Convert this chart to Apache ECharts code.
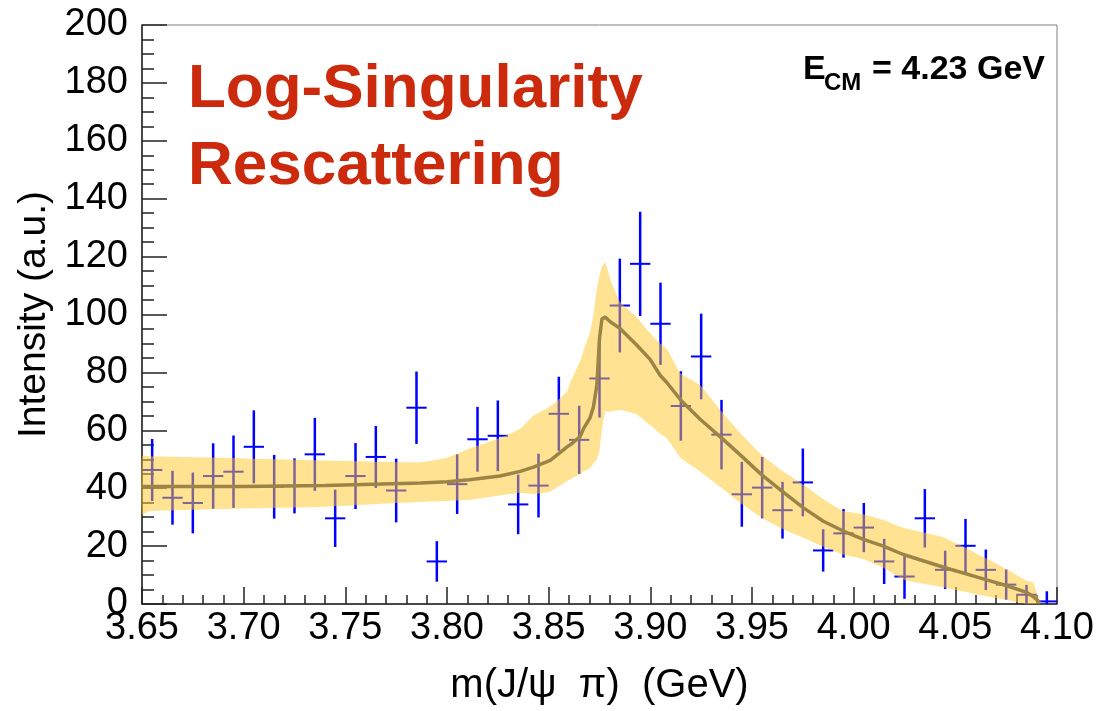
<!DOCTYPE html>
<html>
<head>
<meta charset="utf-8">
<script src="https://cdn.jsdelivr.net/npm/echarts@6/dist/echarts.min.js"></script>
<style>
  html, body { margin: 0; padding: 0; background: #ffffff; }
  #chart { width: 1099px; height: 711px; }
</style>
</head>
<body>
<div id="chart"></div>
<script>
// Measured J/psi pi invariant-mass spectrum (bin centres, GeV)
const massBins = [
  3.655, 3.665, 3.675, 3.685, 3.695, 3.705, 3.715, 3.725, 3.735, 3.745,
  3.755, 3.765, 3.775, 3.785, 3.795, 3.805, 3.815, 3.825, 3.835, 3.845,
  3.855, 3.865, 3.875, 3.885, 3.895, 3.905, 3.915, 3.925, 3.935, 3.945,
  3.955, 3.965, 3.975, 3.985, 3.995, 4.005, 4.015, 4.025, 4.035, 4.045,
  4.055, 4.065, 4.075, 4.085, 4.095
];
const counts = [
  46.3, 36.7, 34.9, 44.2, 45.7, 54.3, 40.5, 40.8, 51.7, 29.6,
  44.2, 50.8, 39.2, 67.8, 14.7, 41.4, 56.9, 58.1, 34.4, 40.9,
  65.7, 56.7, 77.9, 103.1, 117.5, 96.8, 68.4, 85.5, 58.5, 37.9,
  40.2, 32.4, 42.0, 18.5, 24.4, 26.4, 14.7, 9.5, 29.6, 11.8,
  20.1, 11.8, 6.7, 3.2, 0.9
];
const errors = [
  10.7, 9.3, 10.5, 11.3, 12.5, 12.6, 11.0, 9.5, 12.6, 9.9,
  11.4, 10.7, 11.0, 12.5, 7.0, 10.3, 11.2, 12.2, 10.3, 11.0,
  12.8, 11.8, 13.5, 16.2, 18.0, 14.2, 12.0, 14.8, 12.0, 11.2,
  10.6, 9.8, 11.7, 7.3, 8.4, 8.5, 7.8, 7.7, 10.1, 6.6,
  9.3, 7.0, 5.2, 3.4, 3.5
];

// Log-singularity rescattering model: central curve and uncertainty band
const curveMass = [
  3.650, 3.654, 3.700, 3.740, 3.787, 3.800, 3.811, 3.826, 3.836, 3.8425,
  3.8508, 3.8589, 3.8606, 3.8655, 3.8671, 3.8704, 3.8720, 3.8737, 3.8750, 3.8762,
  3.8778, 3.8803, 3.8852, 3.8934, 3.8999, 3.9048, 3.9081, 3.9150, 3.9245, 3.9351,
  3.9450, 3.9548, 3.9649, 3.9753, 3.9851, 3.9949, 4.0048, 4.0146, 4.0244, 4.0446,
  4.0646, 4.0753, 4.0851, 4.0882, 4.0905, 4.0915
];
const curveLow = [
  31.0, 32.1, 33.0, 33.6, 35.3, 35.6, 36.0, 37.5, 38.3, 38.0,
  38.9, 42.4, 43.0, 45.0, 45.8, 47.0, 48.5, 50.0, 53.0, 60.0,
  66.4, 66.4, 67.0, 65.5, 61.8, 58.8, 57.3, 50.4, 45.8, 40.1,
  34.5, 29.8, 26.0, 22.9, 19.8, 17.1, 15.5, 12.5, 8.5, 5.7,
  2.8, 1.4, 0.0, 0.0, 0.0, 0.0
];
const curveMid = [
  40.6, 40.6, 40.6, 40.9, 41.8, 42.2, 42.9, 44.2, 45.8, 47.3,
  49.6, 54.2, 55.0, 57.8, 60.5, 64.4, 68.0, 75.6, 91.7, 98.5,
  99.1, 97.5, 95.1, 89.4, 84.5, 79.0, 76.5, 70.4, 63.8, 57.3,
  51.0, 44.6, 38.9, 33.2, 28.6, 25.2, 22.3, 20.0, 17.1, 12.6,
  8.5, 6.3, 4.0, 2.6, 1.2, 0.5
];
const curveHigh = [
  51.0, 51.0, 50.3, 49.6, 49.0, 50.5, 53.6, 57.3, 60.5, 65.0,
  68.2, 73.3, 76.5, 84.0, 87.5, 94.0, 100.0, 108.9, 113.4, 116.5,
  118.0, 112.3, 104.3, 99.0, 93.5, 90.0, 88.2, 79.6, 75.6, 66.4,
  58.5, 51.5, 46.0, 41.2, 36.2, 32.1, 31.0, 29.0, 26.3, 22.9,
  16.0, 12.0, 8.0, 7.4, 3.0, 0.5
];

const xTicks = { min: 3.65, max: 4.10, step: 0.05 };
const yTicks = { min: 0, max: 200, step: 20 };

const FONT = "'Liberation Sans', Arial, Helvetica, sans-serif";
const BAND_FILL = 'rgba(255, 200, 40, 0.5)';

const pointData = massBins.map((m, i) => [m, counts[i], errors[i]]);
const bandData = curveMass.map((m, i) => [m, curveLow[i], curveHigh[i]]);
const centralLine = curveMass.map((m, i) => [m, curveMid[i]]);

const chart = echarts.init(document.getElementById('chart'), null, { renderer: 'canvas' });

chart.setOption({
  backgroundColor: '#ffffff',
  animation: false,
  grid: {
    left: 142, right: 42, top: 25, bottom: 104,
    show: true, borderColor: '#808080', borderWidth: 1, backgroundColor: 'transparent'
  },
  xAxis: {
    type: 'value',
    min: xTicks.min, max: xTicks.max, interval: xTicks.step,
    name: 'm(J/\u03c8  \u03c0)  (GeV)',
    nameLocation: 'middle',
    nameGap: 62,
    nameTextStyle: { fontFamily: FONT, fontSize: 40, color: '#000' },
    axisLine: { show: true, onZero: false, lineStyle: { color: '#222', width: 1.5 } },
    axisTick: { show: true, inside: true, length: 17, lineStyle: { color: '#222', width: 1.5 } },
    minorTick: { show: true, splitNumber: 5, length: 9, lineStyle: { color: '#222', width: 1.5 } },
    axisLabel: {
      margin: 6, fontFamily: FONT, fontSize: 38, color: '#000',
      formatter: v => v.toFixed(2)
    },
    splitLine: { show: false }
  },
  yAxis: {
    type: 'value',
    min: yTicks.min, max: yTicks.max, interval: yTicks.step,
    name: 'Intensity (a.u.)',
    nameLocation: 'middle',
    nameGap: 88,
    nameTextStyle: { fontFamily: FONT, fontSize: 39, color: '#000' },
    axisLine: { show: true, onZero: false, lineStyle: { color: '#222', width: 1.5 } },
    axisTick: { show: true, inside: true, length: 25, lineStyle: { color: '#222', width: 1.5 } },
    minorTick: { show: true, splitNumber: 4, length: 12, lineStyle: { color: '#222', width: 1.5 } },
    axisLabel: { margin: 14, fontFamily: FONT, fontSize: 38, color: '#000' },
    splitLine: { show: false }
  },
  graphic: [
    {
      type: 'text', left: 188, top: 51, z: 100,
      style: {
        text: 'Log-Singularity\nRescattering',
        font: "bold 62px 'Liberation Sans', Arial, sans-serif",
        fill: '#cc2a0c', lineHeight: 77
      }
    },
    {
      type: 'text', x: 803, y: 70, z: 100,
      style: {
        text: 'E', font: "bold 34px 'Liberation Sans', Arial, sans-serif",
        fill: '#000', align: 'left', verticalAlign: 'middle'
      }
    },
    {
      type: 'text', x: 824, y: 83, z: 100,
      style: {
        text: 'CM', font: "bold 24px 'Liberation Sans', Arial, sans-serif",
        fill: '#000', align: 'left', verticalAlign: 'middle'
      }
    },
    {
      type: 'text', x: 1045, y: 70, z: 100,
      style: {
        text: '= 4.23 GeV', font: "bold 34px 'Liberation Sans', Arial, sans-serif",
        fill: '#000', align: 'right', verticalAlign: 'middle'
      }
    }
  ],
  series: [
    {
      name: 'data',
      type: 'custom',
      z: 2,
      data: pointData,
      encode: { x: 0, y: 1 },
      renderItem: function (params, api) {
        const x = api.value(0), y = api.value(1), e = api.value(2);
        const half = 0.005;
        const top = api.coord([x, y + e]);
        const bot = api.coord([x, Math.max(y - e, 0)]);
        const l = api.coord([x - half, y]);
        const r = api.coord([x + half, y]);
        return {
          type: 'group',
          children: [
            { type: 'line', shape: { x1: top[0], y1: top[1], x2: bot[0], y2: bot[1] },
              style: { stroke: '#0000ff', lineWidth: 2.5 } },
            { type: 'line', shape: { x1: l[0], y1: l[1], x2: r[0], y2: r[1] },
              style: { stroke: '#0000ff', lineWidth: 2 } }
          ]
        };
      }
    },
    {
      // uncertainty band: one polygon through the upper edge and back along the lower edge
      name: 'band',
      type: 'custom',
      z: 3,
      silent: true,
      data: bandData,
      encode: { x: 0, y: [1, 2] },
      renderItem: function (params, api) {
        if (params.dataIndex !== 0) return null;
        const upper = bandData.map(d => api.coord([d[0], d[2]]));
        const lower = bandData.map(d => api.coord([d[0], d[1]])).reverse();
        return {
          type: 'polygon',
          shape: { points: upper.concat(lower), smooth: 0.15 },
          style: { fill: BAND_FILL, stroke: null }
        };
      }
    },
    {
      name: 'model',
      type: 'line',
      z: 4,
      data: centralLine,
      symbol: 'none',
      silent: true,
      lineStyle: { color: '#9c8446', width: 3.5 }
    }
  ]
});
</script>
</body>
</html>
